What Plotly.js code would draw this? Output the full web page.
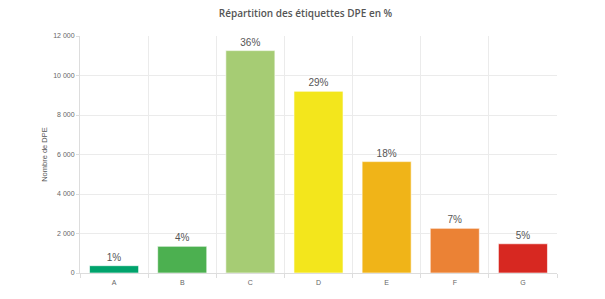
<!DOCTYPE html>
<html><head><meta charset="utf-8">
<script src="https://cdn.plot.ly/plotly-3.0.1.min.js"></script>
<style>html,body{margin:0;padding:0;background:#fff}#c{width:605px;height:299px}</style>
</head><body><div id="c"></div>
<script>
const categories = ["A","B","C","D","E","F","G"];
const counts = [370, 1350, 11260, 9200, 5640, 2260, 1480];
const percentLabels = ["1%","4%","36%","29%","18%","7%","5%"];
const colors = ["#00a36c","#4cb050","#a6cc74","#f3e61c","#f0b418","#eb8235","#d72821"];

Plotly.newPlot("c", [{
  type: "bar",
  x: categories,
  y: counts,
  text: percentLabels,
  textposition: "outside",
  textfont: {family: "Liberation Sans, Arial, sans-serif", size: 10, color: "#555"},
  cliponaxis: false,
  marker: {color: colors, line: {color: "rgba(255,255,255,0.6)", width: 1}},
  hoverinfo: "none"
}], {
  width: 605, height: 299,
  margin: {l: 80, r: 48, t: 36, b: 26},
  paper_bgcolor: "#fff", plot_bgcolor: "#fff",
  separators: ", ",
  bargap: 0.28,
  title: {text: "Répartition des étiquettes DPE en %", x: 0.505, xanchor: "center", y: 0.955, yanchor: "middle",
          font: {family: "Open Sans, sans-serif", size: 10, color: "#555", weight: 600}},
  xaxis: {
    type: "category", tickson: "boundaries", showgrid: true, gridcolor: "#ebebeb",
    ticks: "outside", ticklen: 4, tickcolor: "#ddd", showline: true, linecolor: "#ddd",
    ticklabelstandoff: 3,
    tickfont: {family: "Liberation Sans, Arial, sans-serif", size: 7, color: "#666"}
  },
  yaxis: {
    range: [0, 12000], tickvals: [0,2000,4000,6000,8000,10000,12000],
    tickformat: ",d", showgrid: true, gridcolor: "#ebebeb", zeroline: false,
    ticks: "outside", ticklen: 3, tickcolor: "#ddd", showline: true, linecolor: "#ddd",
    tickfont: {family: "Liberation Sans, Arial, sans-serif", size: 7, color: "#666"},
    title: {text: "Nombre de DPE", standoff: 4, font: {family: "Liberation Sans, Arial, sans-serif", size: 7.5, color: "#555"}}
  },
  showlegend: false
}, {displayModeBar: false, staticPlot: true});
</script></body></html>
